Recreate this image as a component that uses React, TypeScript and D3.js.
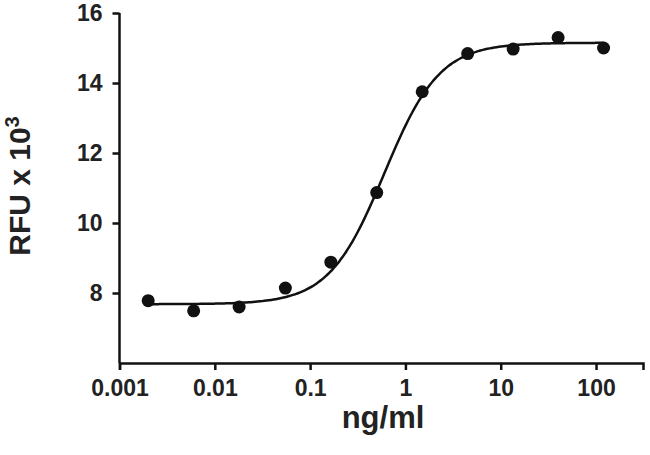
import { useEffect, useRef } from "react";
import { select, scaleLog, scaleLinear, axisBottom, axisLeft, line, range, curveBasis } from "d3";

// ng/ml, 3-fold dilution series
const concentrations = [0.002, 0.006, 0.018, 0.055, 0.165, 0.5, 1.5, 4.5, 13.5, 40, 120];
// RFU x 10^3
const rfuValues = [7.78, 7.49, 7.6, 8.14, 8.88, 10.87, 13.75, 14.84, 14.97, 15.3, 15.0];

const xTicks = [0.001, 0.01, 0.1, 1, 10, 100];
const xTickLabels = ["0.001", "0.01", "0.1", "1", "10", "100"];
const yTicks = [8, 10, 12, 14, 16];

// four-parameter logistic fit shown as the curve
const fitBottom = 7.68;
const fitTop = 15.15;
const fitEC50 = 0.6;
const fitHill = 1.5;

const W = 650;
const H = 455;
const FONT = "'Liberation Sans', Arial, sans-serif";

function logistic(x: number): number {
	return fitBottom + (fitTop - fitBottom) / (1 + Math.pow(fitEC50 / x, fitHill));
}

export default function App() {
	const svgRef = useRef<SVGSVGElement>(null);

	useEffect(() => {
		const svg = select(svgRef.current);
		svg.selectAll("*").remove();

		const x = scaleLog().domain([0.001, 311]).range([119.5, 643]);
		const y = scaleLinear().domain([6, 16]).range([363, 13]);

		const xAxis = svg
			.append("g")
			.attr("transform", `translate(0,${y(6)})`)
			.call(
				axisBottom(x)
					.tickValues(xTicks)
					.tickFormat((d, i) => xTickLabels[i])
					.tickSizeOuter(0)
					.tickSize(7)
					.tickPadding(10)
			);

		const yAxis = svg
			.append("g")
			.attr("transform", `translate(${x(0.001)},0)`)
			.call(axisLeft(y).tickValues(yTicks).tickSizeOuter(0).tickSize(7).tickPadding(10));

		[xAxis, yAxis].forEach((g) => {
			g.selectAll("path, line").attr("stroke", "#111").attr("stroke-width", 2.5);
			g.selectAll("text")
				.attr("font-family", FONT)
				.attr("font-weight", "bold")
				.attr("font-size", 23)
				.attr("fill", "#222");
		});
		// y axis domain line starts at the top tick
		yAxis.select(".domain").attr("d", `M0,${y(16)}V${y(6)}`);

		const logMin = Math.log10(concentrations[0]);
		const logMax = Math.log10(concentrations[concentrations.length - 1]);
		const curveX = range(0, 201).map((i) => Math.pow(10, logMin + ((logMax - logMin) * i) / 200));

		svg.append("path")
			.datum(curveX)
			.attr("fill", "none")
			.attr("stroke", "#111")
			.attr("stroke-width", 2.5)
			.attr(
				"d",
				line<number>()
					.x((d) => x(d))
					.y((d) => y(logistic(d)))
					.curve(curveBasis)
			);

		svg.append("g")
			.selectAll("circle")
			.data(concentrations)
			.enter()
			.append("circle")
			.attr("cx", (d) => x(d))
			.attr("cy", (d, i) => y(rfuValues[i]))
			.attr("r", 6.5)
			.attr("fill", "#111");

		svg.append("text")
			.attr("x", 383)
			.attr("y", 428)
			.attr("text-anchor", "middle")
			.attr("font-family", FONT)
			.attr("font-weight", "bold")
			.attr("font-size", 31)
			.attr("fill", "#222")
			.text("ng/ml");

		const yTitle = svg
			.append("text")
			.attr("transform", "translate(30,186) rotate(-90)")
			.attr("text-anchor", "middle")
			.attr("font-family", FONT)
			.attr("font-weight", "bold")
			.attr("font-size", 30)
			.attr("fill", "#222");
		yTitle.append("tspan").text("RFU x 10");
		yTitle.append("tspan").attr("dy", -11).attr("font-size", 20).text("3");
	}, []);

	return (
		<svg
			ref={svgRef}
			width={W}
			height={H}
			style={{ position: "absolute", left: 0, top: 0, background: "#fff" }}
		/>
	);
}
